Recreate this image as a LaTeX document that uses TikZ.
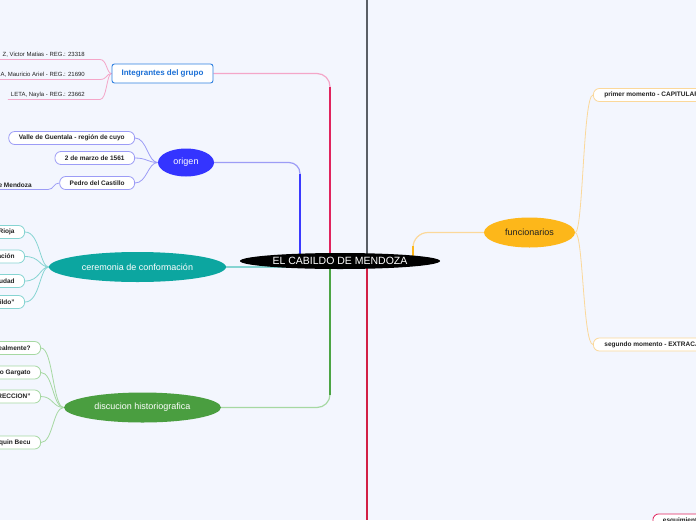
\documentclass[tikz,border=0pt]{standalone}
\usepackage{fontspec}
\setmainfont{Liberation Sans}
\usetikzlibrary{shapes.geometric}
\pgfdeclarelayer{back}
\pgfdeclarelayer{conn}
\pgfsetlayers{back,conn,main}
\definecolor{bgc}{HTML}{F3F6FE}
\definecolor{txt}{HTML}{222222}
\definecolor{pinkd}{HTML}{E0245E}
\definecolor{pinkm}{HTML}{EE7FA6}
\definecolor{pinkl}{HTML}{F4A6C8}
\definecolor{intb}{HTML}{2F80E0}
\definecolor{intt}{HTML}{1A6FD6}
\definecolor{blued}{HTML}{3A3AFF}
\definecolor{bluem}{HTML}{7F7FFF}
\definecolor{bluel}{HTML}{9C9CF6}
\definecolor{origf}{HTML}{3434FF}
\definecolor{tealf}{HTML}{0CA6A0}
\definecolor{teall}{HTML}{86D4D2}
\definecolor{greenf}{HTML}{4A9E40}
\definecolor{greend}{HTML}{4CA444}
\definecolor{greenm}{HTML}{8CCB86}
\definecolor{greenl}{HTML}{A6D8A2}
\definecolor{orf}{HTML}{FDB71A}
\definecolor{orl}{HTML}{FBD89A}
\definecolor{grayd}{HTML}{5A5F66}
\definecolor{redd}{HTML}{D21F45}
\begin{document}
\begin{tikzpicture}[x=1pt,y=-1pt,
  leaf/.style={draw, fill=white, rounded corners=6pt, minimum height=13pt,
    inner xsep=10pt, inner ysep=0pt, line width=0.8pt, text=txt,
    font=\bfseries\fontsize{6.5}{7}\selectfont},
  ulabel/.style={inner xsep=3pt, inner ysep=2pt, text=txt,
    font=\fontsize{6}{7}\selectfont},
  topic/.style={ellipse, inner sep=0pt, font=\fontsize{9}{10}\selectfont},
  thin/.style={line width=0.8pt}]
\useasboundingbox (0,0) rectangle (696,520);
\begin{pgfonlayer}{back}
\fill[bgc] (0,0) rectangle (696,520);
\end{pgfonlayer}

% central node
\node[ellipse, fill=black, text=white, minimum width=200pt, minimum height=16pt,
  inner sep=0pt, font=\fontsize{10.5}{12}\selectfont] (c) at (340,261) {EL CABILDO DE MENDOZA};

% main topics
\node[draw=intb, fill=white, rounded corners=2.5pt, line width=0.9pt, text=intt,
  minimum width=101pt, minimum height=19pt, inner sep=0pt,
  font=\bfseries\fontsize{8}{9}\selectfont] (int) at (162.5,73.5) {Integrantes del grupo};
\node[topic, fill=origf, text=white, minimum width=56pt, minimum height=28pt] (orig) at (186,162.5) {origen};
\node[topic, fill=tealf, text=white, minimum width=177pt, minimum height=30pt] (cer) at (137.5,267) {ceremonia de conformación};
\node[topic, fill=greenf, text=white, minimum width=157pt, minimum height=30pt] (disc) at (142.5,407.5) {discucion historiografica};
\node[topic, fill=orf, text=txt, minimum width=91pt, minimum height=30pt] (func) at (529.5,232.5) {funcionarios};

% integrantes leaves
\node[ulabel, anchor=south east] (m1) at (100,59.5) {Z, Victor Matias - REG.: 23318\rule{12pt}{0pt}};
\node[ulabel, anchor=south east] (m2) at (100,79.5) {A, Mauricio Ariel - REG.: 21690\rule{12pt}{0pt}};
\node[ulabel, anchor=south east] (m3) at (100,99.5) {LETA, Nayla - REG.: 23662\rule{12pt}{0pt}};

% origen leaves
\node[leaf, draw=bluel, anchor=east] (o1) at (135,138) {Valle de Guentala - región de cuyo};
\node[leaf, draw=bluel, anchor=east] (o2) at (135,158) {2 de marzo de 1561};
\node[leaf, draw=bluel, anchor=east] (o3) at (135,183) {Pedro del Castillo};
\node[ulabel, anchor=south east, font=\bfseries\fontsize{6.5}{7}\selectfont] (mz) at (48,189.5) {e Mendoza\rule{13pt}{0pt}};

% ceremonia leaves
\node[leaf, draw=teall, anchor=east] (t1) at (25,232) {Rioja};
\node[leaf, draw=teall, anchor=east] (t2) at (25,256.5) {ación};
\node[leaf, draw=teall, anchor=east] (t3) at (25,281) {udad};
\node[leaf, draw=teall, anchor=east] (t4) at (25,302) {bildo”};

% discusion leaves
\node[leaf, draw=greenl, anchor=east] (g1) at (41,348) {realmente?};
\node[leaf, draw=greenl, anchor=east] (g2) at (41,372.5) {lo Gargato};
\node[leaf, draw=greenl, anchor=east] (g3) at (41,396.5) {RECCION”};
\node[leaf, draw=greenl, anchor=east] (g4) at (41,442.5) {quin Becu};

% funcionarios leaves
\node[leaf, draw=orl, anchor=west, inner xsep=11pt] (f1) at (593,95) {primer momento - CAPITULAR};
\node[leaf, draw=orl, anchor=west, inner xsep=11pt] (f2) at (593,344.5) {segundo momento - EXTRACAPITULAR};

% bottom right partial node
\node[leaf, draw=pinkd, anchor=north west] (bx) at (652.5,513.5) {esquimiento};

% coordinates for the main branches
\coordinate (cp) at (330,261);
\coordinate (cb) at (300,261);
\coordinate (cg) at (330,261);
\coordinate (co) at (413,261);
\coordinate (gt) at (367,0);
\coordinate (rb) at (367,520);

\begin{pgfonlayer}{conn}
% main branches
\draw[pinkl, line width=1.2pt, rounded corners=13pt] (int.east) -| (cp);
\draw[pinkd, line width=2.4pt] (cp) -- ++(0,-174);
\draw[bluel, line width=1.2pt, rounded corners=11pt] (orig.east) -| (cb);
\draw[blued, line width=2.4pt] (cb) -- ++(0,-87);
\draw[greenl, line width=1.2pt, rounded corners=13pt] (disc.east) -| (cg);
\draw[greend, line width=2.4pt] (cg) -- ++(0,134);
\draw[orl, line width=1.2pt, rounded corners=15pt] (co) |- (func.west);
\draw[orf, line width=2.2pt] (co) -- ++(0,-15);
\draw[teall, line width=1.2pt] (cer.east) -- (cer.east -| c.center);
\draw[grayd, line width=2.4pt] (gt) -- (gt |- c.center);
\draw[redd, line width=2.4pt] (rb |- c.center) -- (rb);

% integrantes
\foreach \m in {m1,m2,m3}
  \draw[pinkl, thin] (\m.south west) -- (\m.south east) .. controls +(7,0) and +(-5,0) .. (int.west);
% origen
\foreach \o in {o1,o2,o3}
  \draw[bluel, thin] (orig.west) .. controls +(-10,0) and +(12,0) .. (\o.east);
\draw[bluel, thin] (mz.south west) -- (mz.south east) .. controls +(6,0) and +(-6,0) .. (o3.west);
% ceremonia
\foreach \t in {t1,t2,t3,t4}
  \draw[teall, thin] (cer.west) .. controls +(-9,0) and +(15,0) .. (\t.east);
% discusion
\foreach \g in {g1,g2,g3,g4}
  \draw[greenl, thin] (disc.west) .. controls +(-11,0) and +(12,0) .. (\g.east);
% funcionarios
\foreach \f in {f1,f2}
  \draw[orl, thin] (func.east) .. controls +(8,0) and +(-10,0) .. (\f.west);
\end{pgfonlayer}
\end{tikzpicture}
\end{document}
